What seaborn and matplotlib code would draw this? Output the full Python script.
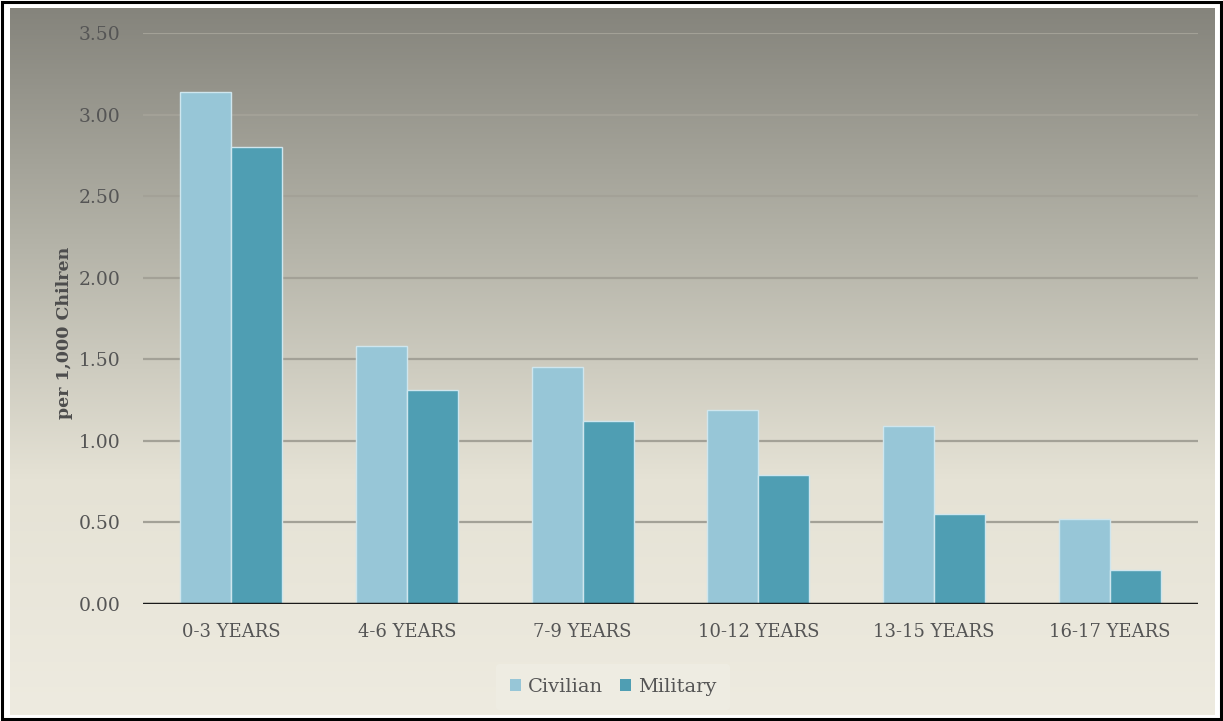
import numpy as np
import pandas as pd
import matplotlib
matplotlib.use("Agg")
import matplotlib.pyplot as plt
from matplotlib.patches import Patch, Rectangle
from matplotlib.colors import LinearSegmentedColormap
import seaborn as sns

categories = ["0-3 YEARS", "4-6 YEARS", "7-9 YEARS", "10-12 YEARS", "13-15 YEARS", "16-17 YEARS"]
civilian = [3.14, 1.58, 1.45, 1.19, 1.09, 0.52]
military = [2.80, 1.31, 1.12, 0.79, 0.55, 0.21]
series = ["Civilian", "Military"]
yticks = [0.0, 0.5, 1.0, 1.5, 2.0, 2.5, 3.0, 3.5]

df = pd.DataFrame({
    "category": categories * 2,
    "value": civilian + military,
    "series": [series[0]] * len(categories) + [series[1]] * len(categories),
})

sns.set_theme(style="white")
plt.rcParams["font.family"] = ["DejaVu Serif"]

W, H = 1223, 721
fig = plt.figure(figsize=(W / 100, H / 100), dpi=100)
fig.patch.set_facecolor("white")

# Vertical gradient backdrop: dark warm gray at the top to pale beige at the bottom
bg = fig.add_axes([10 / W, 1 - 715 / H, (1215 - 10) / W, (715 - 8) / H])
grad = np.linspace(0, 1, 256).reshape(-1, 1)
cmap = LinearSegmentedColormap.from_list("bg", ["#85847c", "#b4b3a8", "#e5e2d5", "#eeebe0"])
bg.imshow(grad, aspect="auto", cmap=cmap, extent=[0, 1, 0, 1], origin="upper")
bg.set_axis_off()

# Outer black frame
fig.add_artist(Rectangle((0.002, 0.003), 0.996, 0.994, transform=fig.transFigure,
                         fill=False, edgecolor="black", linewidth=2.2))

ax = fig.add_axes([143 / W, 1 - 604 / H, (1198 - 143) / W, (604 - 33) / H])
ax.set_facecolor("none")
palette = {"Civilian": "#97c6d7", "Military": "#4f9eb3"}
sns.barplot(data=df, x="category", y="value", hue="series", palette=palette,
            width=0.58, edgecolor="#cfe6ee", linewidth=1.0, saturation=1,
            ax=ax, legend=False, zorder=3)

ax.set_ylim(0, 3.5)
ax.set_xlim(-0.5, len(categories) - 0.5)
ax.set_yticks(yticks)
ax.set_yticklabels([f"{v:.2f}" for v in yticks])
for y in yticks[1:]:
    ax.axhline(y, color="#a3a197", linewidth=1.6, zorder=1)
ax.axhline(0, color="#1a1a1a", linewidth=2.5, zorder=4)

for s in ax.spines.values():
    s.set_visible(False)
ax.tick_params(axis="both", length=0, colors="#555555")
ax.tick_params(axis="y", pad=16, labelsize=13.5)
ax.tick_params(axis="x", pad=14, labelsize=13)
ax.set_xlabel("")
ax.set_ylabel("per 1,000 Chilren", fontsize=12.5, fontweight="bold", color="#4d4d4d")
ax.yaxis.set_label_coords(-0.066, 0.475)

handles = [Patch(facecolor=palette[s], edgecolor="none") for s in series]
leg = fig.legend(handles, series, loc="center", bbox_to_anchor=(613 / W, 1 - 687 / H),
                 ncol=2, frameon=True, prop={"family": "DejaVu Serif", "size": 14},
                 handlelength=0.55, handleheight=0.55,
                 handletextpad=0.35, columnspacing=0.9, borderpad=0.7)
leg.get_frame().set_facecolor("#efede4")
leg.get_frame().set_edgecolor("none")
leg.get_frame().set_alpha(0.8)
for t in leg.get_texts():
    t.set_color("#555555")

fig.savefig("out.png", dpi=100)
